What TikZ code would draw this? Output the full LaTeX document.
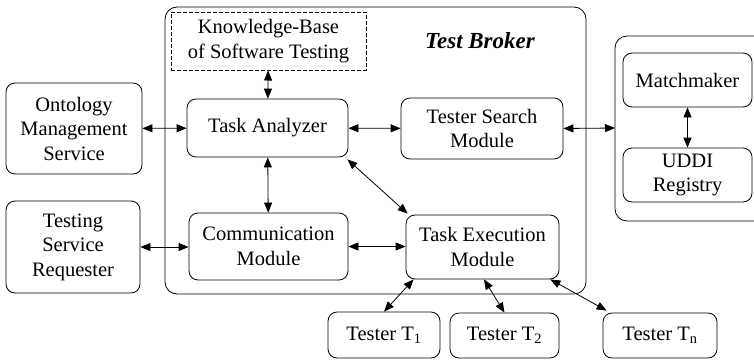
\documentclass[tikz,border=0pt]{standalone}
\usepackage{fontspec}
\setmainfont{Liberation Serif}
\usetikzlibrary{arrows.meta}
\begin{document}
\begin{tikzpicture}[x=1pt,y=-1pt,
  font=\fontsize{20.5}{24.5}\selectfont,
  box/.style={draw, rounded corners=9pt, align=center, inner sep=0pt, line width=0.8pt},
  outer/.style={draw, rounded corners=12pt, line width=0.8pt},
  link/.style={{Triangle[length=10pt,width=8pt]}-{Triangle[length=10pt,width=8pt]}, line width=0.8pt}]
\useasboundingbox (0,0) rectangle (754,359);
% Test Broker container
\node[outer, minimum width=421pt, minimum height=287pt, inner sep=0pt] (broker) at (375.5,150.5) {};
\node[font=\fontsize{23}{26}\selectfont\bfseries\itshape] (brokerlabel) at (480,41) {Test Broker};
% right container (open at the image edge)
\draw[line width=0.8pt, rounded corners=12pt] (760,36) -- (615,36) -- (615,221) -- (760,221);
\coordinate (reg) at (615,128);
% nodes
\node[box, dash pattern=on 4pt off 2pt, line width=1pt, rounded corners=0pt, minimum width=195pt, minimum height=58pt] (kb) at (268.5,41) {Knowledge-Base\\of Software Testing};
\node[box, minimum width=136pt, minimum height=91pt] (onto) at (74,128.5) {Ontology\\Management\\Service};
\node[box, minimum width=161pt, minimum height=58pt] (ta) at (267.5,128) {Task Analyzer};
\node[box, minimum width=162pt, minimum height=61pt] (tsm) at (482,128.5) {Tester Search\\Module};
\node[box, minimum width=129pt, minimum height=54pt] (mm) at (687.5,80) {Matchmaker};
\node[box, minimum width=129pt, minimum height=54pt] (uddi) at (687.5,175) {UDDI\\Registry};
\node[box, minimum width=134pt, minimum height=92pt] (tsr) at (73,247) {Testing\\Service\\Requester};
\node[box, minimum width=159pt, minimum height=67pt] (cm) at (268.5,246.5) {Communication\\Module};
\node[box, minimum width=153pt, minimum height=64pt] (tem) at (482.5,247) {Task Execution\\Module};
\node[box, minimum width=112pt, minimum height=46pt] (t1) at (384,335) {Tester T\textsubscript{1}};
\node[box, minimum width=109pt, minimum height=45pt] (t2) at (504.5,335.5) {Tester T\textsubscript{2}};
\node[box, minimum width=114pt, minimum height=45pt] (tn) at (660,335.5) {Tester T\textsubscript{n}};
% connectors
\draw[link] (kb) -- (ta);
\draw[link] (onto) -- (ta);
\draw[link] (ta) -- (tsm);
\draw[link] (tsm.east) -- (reg);
\draw[link] (mm) -- (uddi);
\draw[link] (ta) -- (cm);
\draw[link] (tsr) -- (cm.west |- tsr);
\draw[link] (cm) -- (tem.west |- cm);
\draw[link] ([shift={(-1pt,-2pt)}]ta.south east) -- ([shift={(2pt,1pt)}]tem.north west);
\draw[link] ([xshift=8pt]tem.south west) -- (t1.north);
\draw[link] ([xshift=1.5pt]tem.south) -- (t2.north);
\draw[link] ([xshift=-9pt]tem.south east) -- ([xshift=4pt, yshift=2pt]tn.north west);
\end{tikzpicture}
\end{document}
